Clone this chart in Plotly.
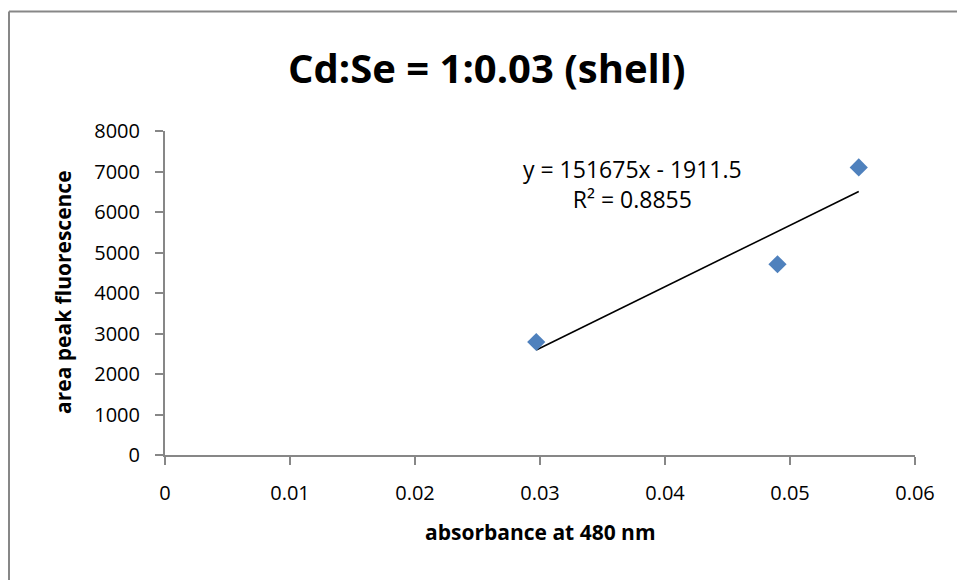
import plotly.graph_objects as go

# ---- data ----
absorbance = [0.0297, 0.0490, 0.0555]
fluorescence = [2790, 4710, 7100]
slope = 151675
intercept = -1911.5
r_squared = 0.8855
x_ticks = [0, 0.01, 0.02, 0.03, 0.04, 0.05, 0.06]
x_tick_labels = ["0", "0.01", "0.02", "0.03", "0.04", "0.05", "0.06"]
y_ticks = [0, 1000, 2000, 3000, 4000, 5000, 6000, 7000, 8000]
y_tick_labels = [str(v) for v in y_ticks]
title_text = "Cd:Se = 1:0.03 (shell)"
x_title = "absorbance at 480 nm"
y_title = "area peak fluorescence"

FONT = "Open Sans"
AXIS_GRAY = "#878787"

W, H = 957, 580
L, R, T, B = 165, 915, 131, 455  # plot area in pixels


def px_to_paper_x(px):
    return (px - L) / (R - L)


def px_to_paper_y(py):
    return (B - py) / (B - T)


trend_x = [min(absorbance), max(absorbance)]
trend_y = [slope * x + intercept for x in trend_x]

fig = go.Figure()
fig.add_trace(go.Scatter(
    x=trend_x, y=trend_y, mode="lines",
    line=dict(color="black", width=1.6),
    showlegend=False, hoverinfo="skip",
))
fig.add_trace(go.Scatter(
    x=absorbance, y=fluorescence, mode="markers",
    marker=dict(symbol="diamond", size=14, color="#4F81BD"),
    showlegend=False,
))

fig.update_layout(
    width=W, height=H,
    margin=dict(l=L, r=W - R, t=T, b=H - B, pad=0),
    paper_bgcolor="white", plot_bgcolor="white",
    font=dict(family=FONT, color="black"),
    xaxis=dict(
        range=[0, 0.06], tickvals=x_ticks, ticktext=x_tick_labels,
        showgrid=False, zeroline=False, showline=True,
        linecolor=AXIS_GRAY, linewidth=2,
        ticks="outside", ticklen=8, tickcolor=AXIS_GRAY, tickwidth=2,
        ticklabelstandoff=11,
        tickfont=dict(size=20, family=FONT), fixedrange=True,
    ),
    yaxis=dict(
        range=[0, 8000], tickvals=y_ticks, ticktext=y_tick_labels,
        showgrid=False, zeroline=False, showline=True,
        linecolor=AXIS_GRAY, linewidth=2,
        ticks="outside", ticklen=8, tickcolor=AXIS_GRAY, tickwidth=2,
        ticklabelstandoff=11,
        tickfont=dict(size=20, family=FONT), fixedrange=True,
    ),
    shapes=[
        dict(type="line", xref="paper", yref="paper",
             x0=px_to_paper_x(9), x1=px_to_paper_x(W + 5),
             y0=px_to_paper_y(11.5), y1=px_to_paper_y(11.5),
             line=dict(color=AXIS_GRAY, width=2)),
        dict(type="line", xref="paper", yref="paper",
             x0=px_to_paper_x(9), x1=px_to_paper_x(9),
             y0=px_to_paper_y(11.5), y1=px_to_paper_y(H + 5),
             line=dict(color=AXIS_GRAY, width=2)),
    ],
    annotations=[
        dict(text=f"<b>{title_text}</b>", xref="paper", yref="paper",
             x=px_to_paper_x(487), y=px_to_paper_y(67),
             xanchor="center", yanchor="middle", showarrow=False,
             font=dict(size=40, family=FONT, color="black")),
        dict(text=f"<b>{x_title}</b>", xref="paper", yref="paper",
             x=px_to_paper_x(540), y=px_to_paper_y(532),
             xanchor="center", yanchor="middle", showarrow=False,
             font=dict(size=21, family=FONT, color="black")),
        dict(text=f"<b>{y_title}</b>", xref="paper", yref="paper",
             x=px_to_paper_x(63), y=px_to_paper_y(292),
             xanchor="center", yanchor="middle", showarrow=False,
             textangle=-90,
             font=dict(size=21, family=FONT, color="black")),
        dict(text=f"y = {slope}x - {abs(intercept)}<br>R² = {r_squared}",
             xref="paper", yref="paper",
             x=px_to_paper_x(632), y=px_to_paper_y(184),
             xanchor="center", yanchor="middle", showarrow=False,
             align="center",
             font=dict(size=23, family=FONT, color="black")),
    ],
)

fig.write_html("out.html")
